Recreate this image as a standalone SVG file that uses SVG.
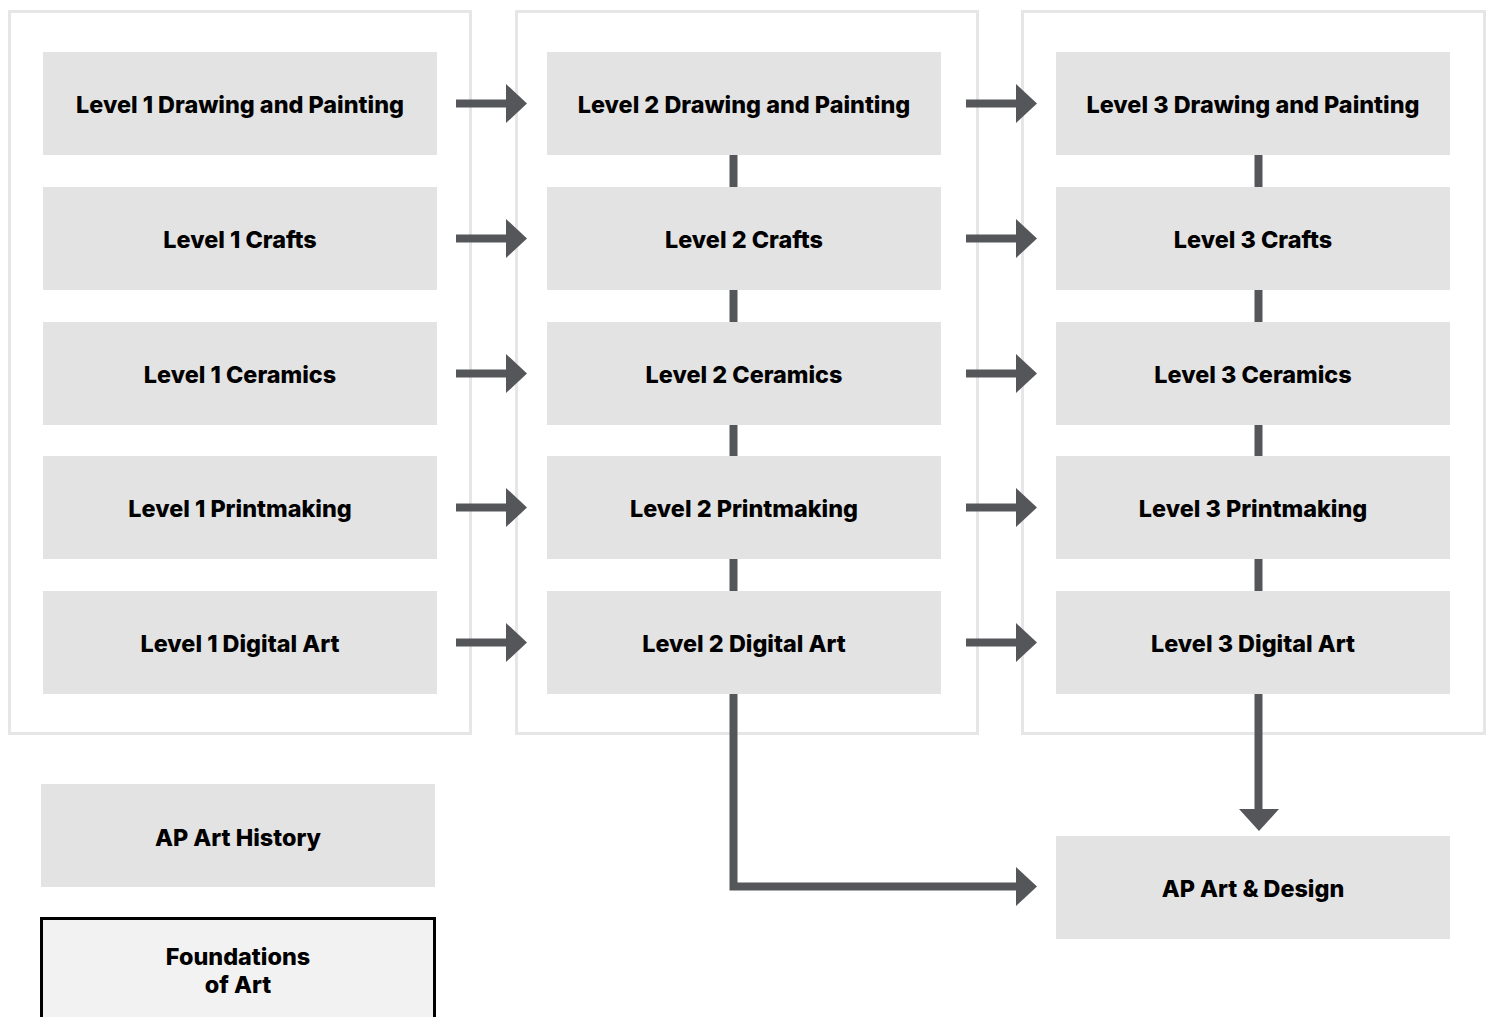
<svg xmlns="http://www.w3.org/2000/svg" width="1493" height="1017" viewBox="0 0 1493 1017">
<style>
.cont{fill:#fff;stroke:#e6e6e6;stroke-width:3}
.node{fill:#e3e3e3}
.t{font-family:Inter,"Noto Sans",sans-serif;font-weight:800;font-size:23.4px;fill:#000;text-anchor:middle;dominant-baseline:central}
.ln{stroke:#55565a;stroke-width:8;fill:none}
.ah{fill:#55565a}
</style>
<defs>
<path id="ar" d="M0,-19.5 L21,0 L0,19.5 Z" class="ah"/>
</defs>
<rect width="1493" height="1017" fill="#fff"/>
<g id="containers">
<rect class="cont" x="9.5" y="11.5" width="461" height="722"/>
<rect class="cont" x="516.5" y="11.5" width="461" height="722"/>
<rect class="cont" x="1022.5" y="11.5" width="462" height="722"/>
</g>
<g id="connectors">
<path class="ln" d="M456,103.5H508M456,238.5H508M456,373.5H508M456,507.5H508M456,642.5H508"/>
<path class="ln" d="M966,103.5H1018M966,238.5H1018M966,373.5H1018M966,507.5H1018M966,642.5H1018"/>
<use href="#ar" x="506" y="103.5"/><use href="#ar" x="506" y="238.5"/><use href="#ar" x="506" y="373.5"/><use href="#ar" x="506" y="507.5"/><use href="#ar" x="506" y="642.5"/>
<use href="#ar" x="1016" y="103.5"/><use href="#ar" x="1016" y="238.5"/><use href="#ar" x="1016" y="373.5"/><use href="#ar" x="1016" y="507.5"/><use href="#ar" x="1016" y="642.5"/>
<path class="ln" d="M733.5,155V187M733.5,290V322M733.5,425V456M733.5,559V591"/>
<path class="ln" d="M1258.5,155V187M1258.5,290V322M1258.5,425V456M1258.5,559V591"/>
<path class="ln" d="M733.5,694V886.5H1018"/>
<use href="#ar" x="1016" y="886.5"/>
<path class="ln" d="M1258.5,694V811"/>
<path class="ah" d="M1239,809H1279L1259,831Z"/>
</g>
<g id="n-l1dp"><rect class="node" x="43" y="52" width="394" height="103"/><text class="t" x="240" y="104">Level 1 Drawing and Painting</text></g>
<g id="n-l1cr"><rect class="node" x="43" y="187" width="394" height="103"/><text class="t" x="240" y="239">Level 1 Crafts</text></g>
<g id="n-l1ce"><rect class="node" x="43" y="322" width="394" height="103"/><text class="t" x="240" y="374">Level 1 Ceramics</text></g>
<g id="n-l1pm"><rect class="node" x="43" y="456" width="394" height="103"/><text class="t" x="240" y="508">Level 1 Printmaking</text></g>
<g id="n-l1da"><rect class="node" x="43" y="591" width="394" height="103"/><text class="t" x="240" y="643">Level 1 Digital Art</text></g>
<g id="n-l2dp"><rect class="node" x="547" y="52" width="394" height="103"/><text class="t" x="744" y="104">Level 2 Drawing and Painting</text></g>
<g id="n-l2cr"><rect class="node" x="547" y="187" width="394" height="103"/><text class="t" x="744" y="239">Level 2 Crafts</text></g>
<g id="n-l2ce"><rect class="node" x="547" y="322" width="394" height="103"/><text class="t" x="744" y="374">Level 2 Ceramics</text></g>
<g id="n-l2pm"><rect class="node" x="547" y="456" width="394" height="103"/><text class="t" x="744" y="508">Level 2 Printmaking</text></g>
<g id="n-l2da"><rect class="node" x="547" y="591" width="394" height="103"/><text class="t" x="744" y="643">Level 2 Digital Art</text></g>
<g id="n-l3dp"><rect class="node" x="1056" y="52" width="394" height="103"/><text class="t" x="1253" y="104">Level 3 Drawing and Painting</text></g>
<g id="n-l3cr"><rect class="node" x="1056" y="187" width="394" height="103"/><text class="t" x="1253" y="239">Level 3 Crafts</text></g>
<g id="n-l3ce"><rect class="node" x="1056" y="322" width="394" height="103"/><text class="t" x="1253" y="374">Level 3 Ceramics</text></g>
<g id="n-l3pm"><rect class="node" x="1056" y="456" width="394" height="103"/><text class="t" x="1253" y="508">Level 3 Printmaking</text></g>
<g id="n-l3da"><rect class="node" x="1056" y="591" width="394" height="103"/><text class="t" x="1253" y="643">Level 3 Digital Art</text></g>
<g id="n-apah"><rect class="node" x="41" y="784" width="394" height="103"/><text class="t" x="238" y="837">AP Art History</text></g>
<g id="n-apad"><rect class="node" x="1056" y="836" width="394" height="103"/><text class="t" x="1253" y="888">AP Art &amp; Design</text></g>
<g id="n-found"><rect x="41.5" y="918.5" width="393" height="120" fill="#f2f2f2" stroke="#000" stroke-width="3"/><text class="t" x="238" y="956">Foundations</text><text class="t" x="238" y="984">of Art</text></g>
</svg>
